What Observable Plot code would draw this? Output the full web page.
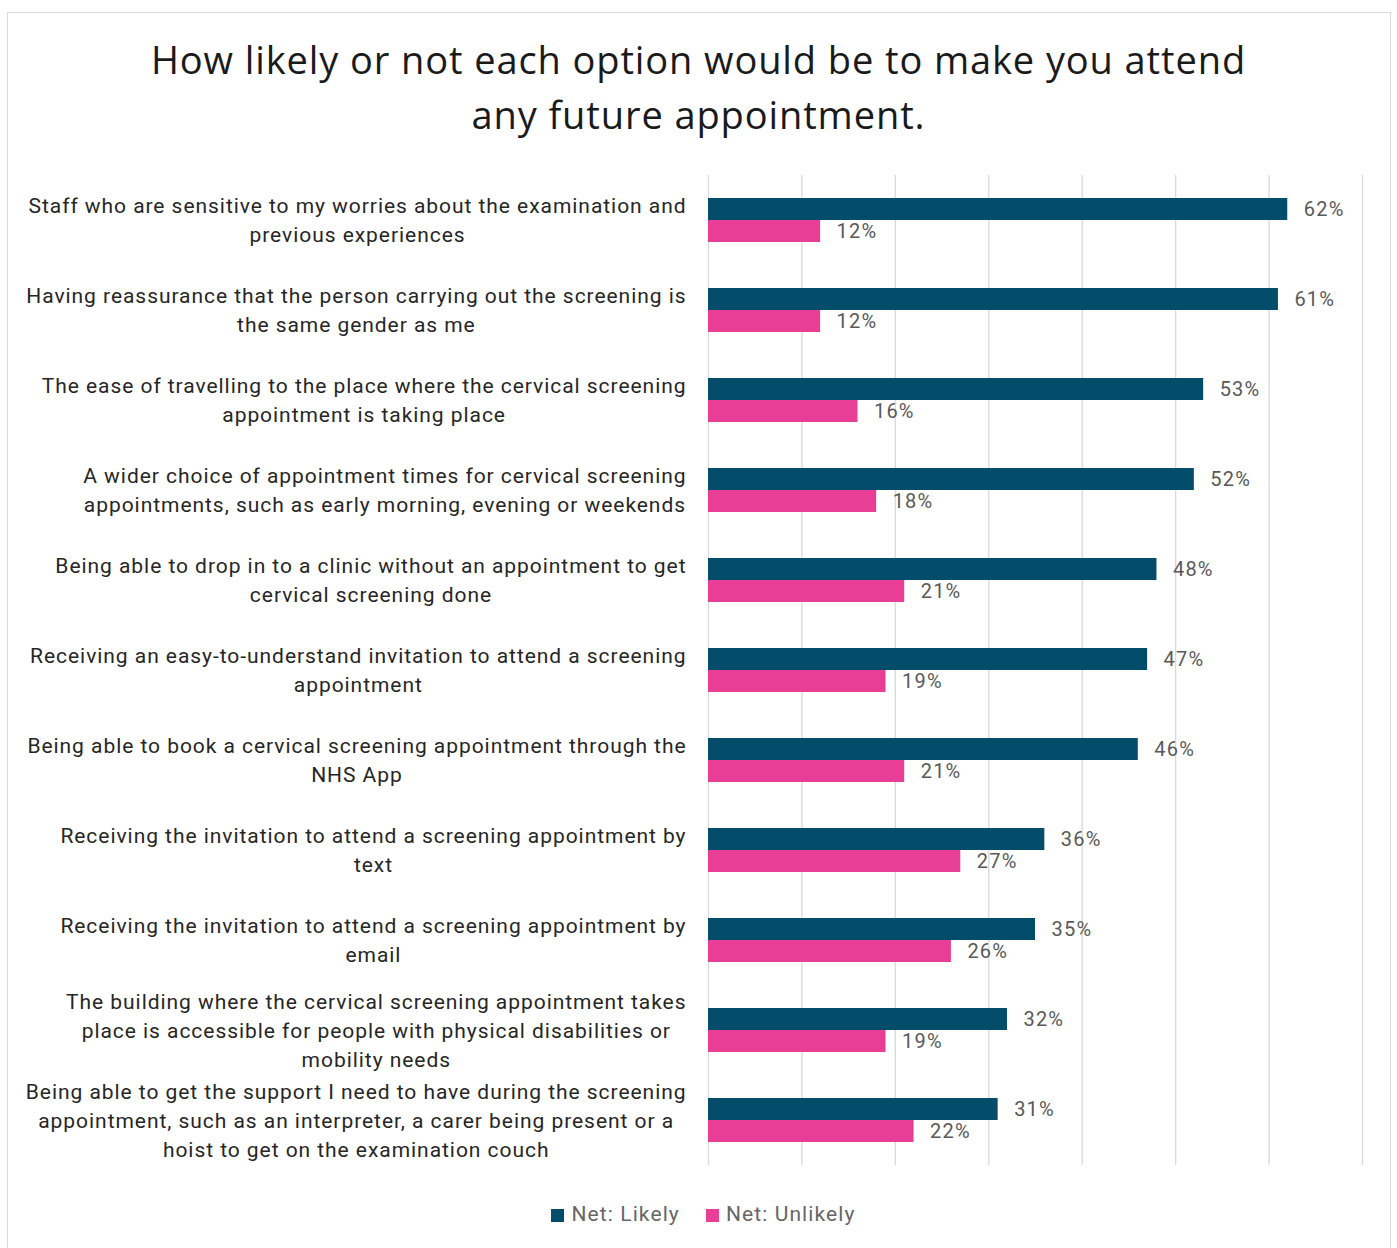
<!DOCTYPE html>
<html>
<head>
<meta charset="utf-8">
<script src="https://cdn.jsdelivr.net/npm/d3@7"></script>
<script src="https://cdn.jsdelivr.net/npm/@observablehq/plot@0.6"></script>
<style>
  html, body { margin: 0; padding: 0; background: #fff; }
  body { width: 1397px; height: 1248px; position: relative; overflow: hidden; }
  #frame { position: absolute; left: 7px; top: 12px; width: 1384px; height: 1300px; border: 1px solid #d9d9d9; box-sizing: border-box; }
  #title { position: absolute; left: 0; top: 32px; width: 1397px; text-align: center; font-family: "Open Sans", sans-serif; font-size: 38px; letter-spacing: 0.9px; line-height: 55px; color: #1a1a1a; }
  #chart { position: absolute; left: 0; top: 150px; }
  #chart g.catlabel text { letter-spacing: 0.95px; }
  #chart g.vallabel text { letter-spacing: 1.2px; }
  #legend { position: absolute; left: 0; top: 1202px; width: 1397px; display: flex; justify-content: center; gap: 26px; font-family: Roboto, sans-serif; font-size: 21px; letter-spacing: 1.1px; color: #666; padding-left: 10px; box-sizing: border-box; }
  #legend span.sw { display: inline-block; width: 13px; height: 13px; margin-right: 7px; vertical-align: -1px; }
</style>
</head>
<body>
<div id="frame"></div>
<div id="title">How likely or not each option would be to make you attend<br>any future appointment.</div>
<div id="chart"></div>
<div id="legend"></div>
<script>
const categories = [
  "Staff who are sensitive to my worries about the examination and\nprevious experiences",
  "Having reassurance that the person carrying out the screening is\nthe same gender as me",
  "The ease of travelling to the place where the cervical screening\nappointment is taking place",
  "A wider choice of appointment times for cervical screening\nappointments, such as early morning, evening or weekends",
  "Being able to drop in to a clinic without an appointment to get\ncervical screening done",
  "Receiving an easy-to-understand invitation to attend a screening\nappointment",
  "Being able to book a cervical screening appointment through the\nNHS App",
  "Receiving the invitation to attend a screening appointment by\ntext",
  "Receiving the invitation to attend a screening appointment by\nemail",
  "The building where the cervical screening appointment takes\nplace is accessible for people with physical disabilities or\nmobility needs",
  "Being able to get the support I need to have during the screening\nappointment, such as an interpreter, a carer being present or a\nhoist to get on the examination couch"
];
const seriesNames = ["Net: Likely", "Net: Unlikely"];
const likely =   [62, 61, 53, 52, 48, 47, 46, 36, 35, 32, 31];
const unlikely = [12, 12, 16, 18, 21, 19, 21, 27, 26, 19, 22];
const colors = ["#034d6b", "#e83e96"];
const xTicks = [0, 10, 20, 30, 40, 50, 60, 70];

const rows = [];
categories.forEach((c, i) => {
  rows.push({cat: c, series: seriesNames[0], value: likely[i]});
  rows.push({cat: c, series: seriesNames[1], value: unlikely[i]});
});

const labelSize = 21, labelSpacing = 0.95;
const ctx = document.createElement("canvas").getContext("2d");
ctx.font = `${labelSize}px Roboto`;
const measure = l => ctx.measureText(l).width + l.length * labelSpacing;
const labelMarks = categories.map(c => {
  const w = d3.max(c.split("\n"), measure);
  return Plot.text([c], {
    fy: d => d, frameAnchor: "left", text: d => d,
    textAnchor: "middle", dx: -(22 + w / 2), dy: -2, lineHeight: 29 / labelSize,
    fontSize: labelSize, fontFamily: "Roboto, sans-serif", fill: "#262626",
    className: "catlabel"
  });
});

const chart = Plot.plot({
  width: 1397,
  height: 1030,
  marginLeft: 708,
  marginRight: 35,
  marginTop: 25,
  marginBottom: 15,
  x: {domain: [0, 70], axis: null},
  fy: {domain: categories, axis: null, padding: 0},
  y: {domain: seriesNames, axis: null, paddingInner: 0, paddingOuter: 0.957},
  color: {domain: seriesNames, range: colors},
  marks: [
    Plot.ruleX(xTicks, {stroke: "#d9d9d9", strokeWidth: 1.3}),
    Plot.barX(rows, {fy: "cat", y: "series", x1: 0, x2: "value", fill: "series"}),
    Plot.text(rows, {fy: "cat", y: "series", x: "value", text: d => d.value + "%", dx: 16, textAnchor: "start", fill: "#595959", fontSize: 20, fontFamily: "Roboto, sans-serif", className: "vallabel"}),
    ...labelMarks
  ]
});
document.getElementById("chart").appendChild(chart);

const legend = document.getElementById("legend");
seriesNames.forEach((s, i) => {
  const item = document.createElement("div");
  item.innerHTML = `<span class="sw" style="background:${colors[i]}"></span>${s}`;
  legend.appendChild(item);
});
</script>
</body>
</html>
